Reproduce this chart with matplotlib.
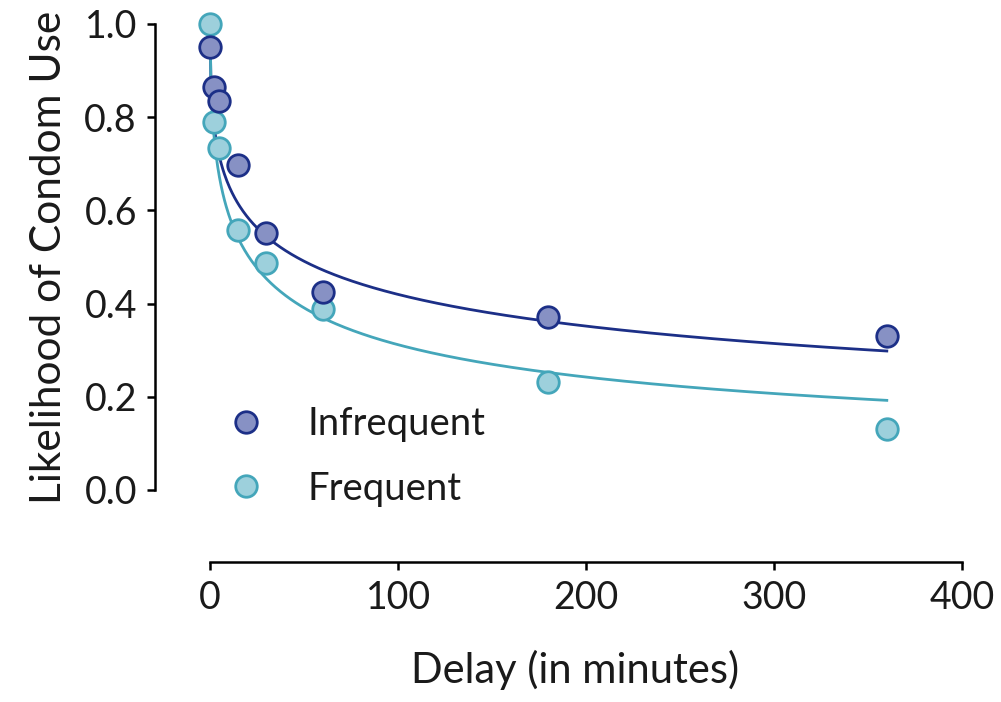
import numpy as np
import matplotlib
matplotlib.use("Agg")
import matplotlib.pyplot as plt
from matplotlib.lines import Line2D

plt.rcParams['font.family'] = ['Lato', 'DejaVu Sans']

delays = [0, 2, 5, 15, 30, 60, 180, 360]
infrequent = [0.951, 0.865, 0.835, 0.697, 0.552, 0.425, 0.372, 0.331]
frequent = [1.0, 0.790, 0.733, 0.558, 0.487, 0.388, 0.232, 0.131]

# hyperboloid fit parameters V = 1 / (1 + k * D^s)
fit_infrequent = {"k": 0.2045, "s": 0.415}
fit_frequent = {"k": 0.2187, "s": 0.502}

series_names = ["Infrequent", "Frequent"]
xticks = [0, 100, 200, 300, 400]
yticks = [0.0, 0.2, 0.4, 0.6, 0.8, 1.0]

inf_line = "#1c2f87"
inf_fill = "#8791c4"
inf_edge = "#1c2f87"
fr_line = "#44a6ba"
fr_fill = "#9dd0dc"
fr_edge = "#44a6ba"
text_col = "#1a1a1a"

fig = plt.figure(figsize=(10.01, 7.02), dpi=100)
ax = fig.add_axes([155/1001, 1-490/702, (962-155)/1001, 466/702])

dd = np.linspace(0, 360, 800)
for fit, col in [(fit_infrequent, inf_line), (fit_frequent, fr_line)]:
    v = 1.0 / (1.0 + fit["k"] * dd ** fit["s"])
    ax.plot(dd, v, color=col, lw=2.0, zorder=2, clip_on=False)

ax.plot(delays, frequent, 'o', ms=15.5, mfc=fr_fill, mec=fr_edge, mew=2.0,
        ls='none', zorder=3, clip_on=False)
ax.plot(delays, infrequent, 'o', ms=15.5, mfc=inf_fill, mec=inf_edge, mew=2.0,
        ls='none', zorder=4, clip_on=False)

ax.set_xlim(-29.3, 400)
ax.set_ylim(0, 1.0)
ax.spines['top'].set_visible(False)
ax.spines['right'].set_visible(False)
ax.spines['bottom'].set_position(('outward', 52))
ax.spines['bottom'].set_bounds(0, 400)
for s in ['left', 'bottom']:
    ax.spines[s].set_linewidth(1.8)
ax.set_xticks(xticks)
ax.set_yticks(yticks)
ax.set_yticklabels([f"{t:.1f}" for t in yticks])
ax.tick_params(axis='both', which='major', length=6, width=1.8,
               labelsize=27, pad=7, color='black', labelcolor=text_col)

ax.set_xlabel("Delay (in minutes)", fontsize=30, labelpad=24, color=text_col)
ax.xaxis.label.set_x((575 - 155) / 807)
ax.set_ylabel("Likelihood of Condom Use", fontsize=30.5, labelpad=12, color=text_col)

handles = [
    Line2D([], [], marker='o', ls='none', ms=15.5, mfc=inf_fill, mec=inf_edge, mew=2.0),
    Line2D([], [], marker='o', ls='none', ms=15.5, mfc=fr_fill, mec=fr_edge, mew=2.0),
]
leg = ax.legend(handles, series_names, loc='center left', bbox_to_anchor=(0.089, 0.072),
                frameon=False, fontsize=27.5, handlelength=1.0, handletextpad=1.12,
                labelspacing=0.74, borderaxespad=0, borderpad=0)
for t in leg.get_texts():
    t.set_color(text_col)

fig.savefig("out.png", dpi=100)
